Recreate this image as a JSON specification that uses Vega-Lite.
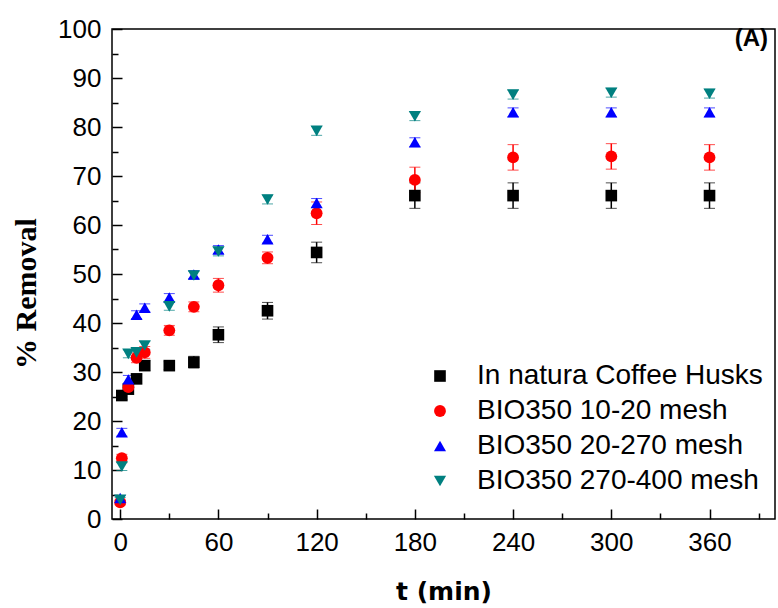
{
  "$schema": "https://vega.github.io/schema/vega-lite/v6.json",
  "width": 663,
  "height": 490,
  "autosize": {"type": "none"},
  "padding": {"left": 112, "top": 29, "right": 3, "bottom": 89},
  "background": "white",
  "config": {
    "view": {"stroke": "black", "strokeWidth": 1.5},
    "font": "Liberation Sans",
    "axis": {"grid": false, "domain": false, "tickColor": "black", "tickWidth": 1.5, "labelColor": "black", "titleColor": "black"}
  },
  "title": {"text": "(A)", "anchor": "end", "frame": "group", "offset": -35, "dx": -7, "fontSize": 24, "fontWeight": "bold", "font": "Liberation Sans", "color": "black"},
  "data": {"values": [
    {"s": "In natura Coffee Husks", "t": 1, "v": 25.2, "e": 0.8},
    {"s": "In natura Coffee Husks", "t": 5, "v": 26.5, "e": 0.8},
    {"s": "In natura Coffee Husks", "t": 10, "v": 28.6, "e": 0.9},
    {"s": "In natura Coffee Husks", "t": 15, "v": 31.3, "e": 1.0},
    {"s": "In natura Coffee Husks", "t": 30, "v": 31.3, "e": 0.8},
    {"s": "In natura Coffee Husks", "t": 45, "v": 32.0, "e": 1.2},
    {"s": "In natura Coffee Husks", "t": 60, "v": 37.6, "e": 1.6},
    {"s": "In natura Coffee Husks", "t": 90, "v": 42.5, "e": 1.7},
    {"s": "In natura Coffee Husks", "t": 120, "v": 54.4, "e": 2.1},
    {"s": "In natura Coffee Husks", "t": 180, "v": 66.0, "e": 2.6},
    {"s": "In natura Coffee Husks", "t": 240, "v": 66.0, "e": 2.6},
    {"s": "In natura Coffee Husks", "t": 300, "v": 66.0, "e": 2.6},
    {"s": "In natura Coffee Husks", "t": 360, "v": 66.0, "e": 2.6},
    {"s": "BIO350 10-20 mesh", "t": 0, "v": 3.4, "e": 0.5},
    {"s": "BIO350 10-20 mesh", "t": 1, "v": 12.4, "e": 0.8},
    {"s": "BIO350 10-20 mesh", "t": 5, "v": 26.9, "e": 0.8},
    {"s": "BIO350 10-20 mesh", "t": 10, "v": 32.9, "e": 1.0},
    {"s": "BIO350 10-20 mesh", "t": 15, "v": 34.0, "e": 1.2},
    {"s": "BIO350 10-20 mesh", "t": 30, "v": 38.5, "e": 1.0},
    {"s": "BIO350 10-20 mesh", "t": 45, "v": 43.3, "e": 1.0},
    {"s": "BIO350 10-20 mesh", "t": 60, "v": 47.7, "e": 1.4},
    {"s": "BIO350 10-20 mesh", "t": 90, "v": 53.3, "e": 1.2},
    {"s": "BIO350 10-20 mesh", "t": 120, "v": 62.4, "e": 2.3},
    {"s": "BIO350 10-20 mesh", "t": 180, "v": 69.2, "e": 2.6},
    {"s": "BIO350 10-20 mesh", "t": 240, "v": 73.8, "e": 2.6},
    {"s": "BIO350 10-20 mesh", "t": 300, "v": 74.0, "e": 2.6},
    {"s": "BIO350 10-20 mesh", "t": 360, "v": 73.8, "e": 2.6},
    {"s": "BIO350 20-270 mesh", "t": 0, "v": 4.3, "e": 0.5},
    {"s": "BIO350 20-270 mesh", "t": 1, "v": 17.7, "e": 0.8},
    {"s": "BIO350 20-270 mesh", "t": 5, "v": 28.5, "e": 0.8},
    {"s": "BIO350 20-270 mesh", "t": 10, "v": 41.7, "e": 0.8},
    {"s": "BIO350 20-270 mesh", "t": 15, "v": 43.1, "e": 0.8},
    {"s": "BIO350 20-270 mesh", "t": 30, "v": 45.2, "e": 0.8},
    {"s": "BIO350 20-270 mesh", "t": 45, "v": 49.9, "e": 0.8},
    {"s": "BIO350 20-270 mesh", "t": 60, "v": 55.0, "e": 0.8},
    {"s": "BIO350 20-270 mesh", "t": 90, "v": 57.1, "e": 0.8},
    {"s": "BIO350 20-270 mesh", "t": 120, "v": 64.5, "e": 0.9},
    {"s": "BIO350 20-270 mesh", "t": 180, "v": 76.9, "e": 0.9},
    {"s": "BIO350 20-270 mesh", "t": 240, "v": 83.0, "e": 0.9},
    {"s": "BIO350 20-270 mesh", "t": 300, "v": 83.0, "e": 0.9},
    {"s": "BIO350 20-270 mesh", "t": 360, "v": 83.0, "e": 0.9},
    {"s": "BIO350 270-400 mesh", "t": 0, "v": 3.9, "e": 0.5},
    {"s": "BIO350 270-400 mesh", "t": 1, "v": 10.7, "e": 0.8},
    {"s": "BIO350 270-400 mesh", "t": 5, "v": 33.7, "e": 0.8},
    {"s": "BIO350 270-400 mesh", "t": 10, "v": 34.0, "e": 0.8},
    {"s": "BIO350 270-400 mesh", "t": 15, "v": 35.4, "e": 0.8},
    {"s": "BIO350 270-400 mesh", "t": 30, "v": 43.4, "e": 0.8},
    {"s": "BIO350 270-400 mesh", "t": 45, "v": 49.7, "e": 0.8},
    {"s": "BIO350 270-400 mesh", "t": 60, "v": 54.6, "e": 0.9},
    {"s": "BIO350 270-400 mesh", "t": 90, "v": 65.2, "e": 0.9},
    {"s": "BIO350 270-400 mesh", "t": 120, "v": 79.2, "e": 0.9},
    {"s": "BIO350 270-400 mesh", "t": 180, "v": 82.2, "e": 0.9},
    {"s": "BIO350 270-400 mesh", "t": 240, "v": 86.6, "e": 0.9},
    {"s": "BIO350 270-400 mesh", "t": 300, "v": 87.0, "e": 0.9},
    {"s": "BIO350 270-400 mesh", "t": 360, "v": 86.8, "e": 0.9}
  ]},
  "encoding": {
    "x": {
      "field": "t", "type": "quantitative",
      "scale": {"domain": [-5, 400], "nice": false, "zero": false},
      "axis": {
        "values": [0, 30, 60, 90, 120, 150, 180, 210, 240, 270, 300, 330, 360, 390],
        "labelExpr": "datum.value % 60 === 0 ? datum.label : ''",
        "tickSize": {"condition": {"test": "datum.value % 60 === 0", "value": -10}, "value": -6},
        "labelFontSize": 26, "labelFont": "Liberation Sans", "labelPadding": 20,
        "labelFlush": false, "labelOverlap": false,
        "title": "t (min)", "titleFont": "DejaVu Sans", "titleFontSize": 25, "titleFontWeight": "bold", "titlePadding": 20
      }
    },
    "y": {
      "field": "v", "type": "quantitative",
      "scale": {"domain": [0, 100], "nice": false},
      "axis": {
        "values": [0, 5, 10, 15, 20, 25, 30, 35, 40, 45, 50, 55, 60, 65, 70, 75, 80, 85, 90, 95, 100],
        "labelExpr": "datum.value % 10 === 0 ? datum.label : ''",
        "tickSize": {"condition": {"test": "datum.value % 10 === 0", "value": -10}, "value": -6},
        "labelFontSize": 26, "labelFont": "Liberation Sans", "labelPadding": 21,
        "labelFlush": false, "labelOverlap": false,
        "title": "% Removal", "titleFont": "Liberation Serif", "titleFontSize": 30, "titleFontWeight": "bold", "titlePadding": 16, "titleY": 264
      }
    },
    "color": {"field": "s", "type": "nominal",
      "scale": {"domain": ["In natura Coffee Husks", "BIO350 10-20 mesh", "BIO350 20-270 mesh", "BIO350 270-400 mesh"], "range": ["#000000", "#ff0000", "#0000ff", "#008080"]},
      "legend": {"title": null, "orient": "none", "legendX": 314, "legendY": 333, "labelFontSize": 28, "labelFont": "Liberation Sans", "labelColor": "black", "labelLimit": 500, "symbolSize": 80, "labelOffset": 23, "rowPadding": 7, "symbolStrokeWidth": 0, "symbolOpacity": 1}}
  },
  "layer": [
    {
      "mark": {"type": "errorbar", "ticks": {"size": 11, "strokeWidth": 1.5}, "rule": {"strokeWidth": 1.5}},
      "encoding": {
        "yError": {"field": "e"}
      }
    },
    {
      "mark": {"type": "point", "filled": true, "opacity": 1},
      "encoding": {
        "shape": {"field": "s", "type": "nominal",
          "scale": {"domain": ["In natura Coffee Husks", "BIO350 10-20 mesh", "BIO350 20-270 mesh", "BIO350 270-400 mesh"], "range": ["square", "circle", "triangle-up", "triangle-down"]},
          "legend": {"title": null, "orient": "none", "legendX": 314, "legendY": 333, "labelFontSize": 28, "labelFont": "Liberation Sans", "labelColor": "black", "labelLimit": 500, "symbolSize": 80, "labelOffset": 23, "rowPadding": 7, "symbolStrokeWidth": 0, "symbolOpacity": 1}},
        "size": {"field": "s", "type": "ordinal", "legend": null,
          "scale": {"domain": ["In natura Coffee Husks", "BIO350 10-20 mesh", "BIO350 20-270 mesh", "BIO350 270-400 mesh"], "range": [135, 150, 230, 230]}}
      }
    }
  ]
}
